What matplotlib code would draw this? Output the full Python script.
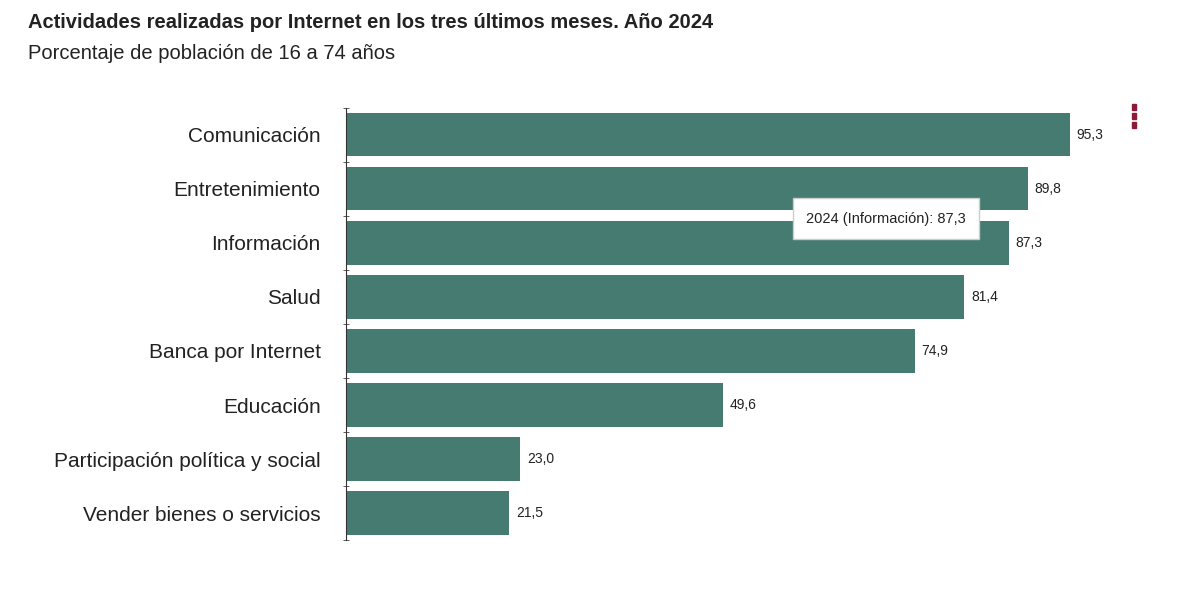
import matplotlib.pyplot as plt

plt.rcParams["font.family"] = "Liberation Sans"

categories = ["Comunicación", "Entretenimiento", "Información", "Salud",
              "Banca por Internet", "Educación", "Participación política y social",
              "Vender bienes o servicios"]
values = [95.3, 89.8, 87.3, 81.4, 74.9, 49.6, 23.0, 21.5]
bar_color = "#457b71"

fig = plt.figure(figsize=(12, 5.89), dpi=100)
ax = fig.add_axes([0.288, 0.083, 0.67, 0.734])

y = list(range(len(categories)))
ax.barh(y, values, height=0.8, color=bar_color)
ax.set_ylim(len(categories) - 0.5, -0.5)
ax.set_xlim(0, 105.8)

for yi, v in zip(y, values):
    ax.text(v + 0.9, yi, f"{v:.1f}".replace(".", ","), va="center", ha="left",
            fontsize=10, color="#222222")

ax.set_yticks(y)
ax.set_yticklabels(categories, fontsize=15, color="#222222")
ax.tick_params(axis="y", length=0, pad=18)
ax.set_yticks([i + 0.5 for i in range(-1, len(categories))], minor=True)
ax.tick_params(axis="y", which="minor", length=5, color="#444444", direction="inout")
ax.set_xticks([])
for s in ["top", "right", "bottom"]:
    ax.spines[s].set_visible(False)
ax.spines["left"].set_color("#333333")

# tooltip
ax.text(60.6, 1.55, "2024 (Información): 87,3", fontsize=10.5, va="center", ha="left",
        color="#222222",
        bbox=dict(boxstyle="square,pad=0.9", fc="white", ec="#cccccc", lw=1))

fig.text(0.023, 0.962, "Actividades realizadas por Internet en los tres últimos meses. Año 2024",
         fontsize=14.5, fontweight="bold", va="center", color="#222222")
fig.text(0.023, 0.91, "Porcentaje de población de 16 a 74 años",
         fontsize=14.5, va="center", color="#222222")

# menu dots
for yy in [0.818, 0.803, 0.788]:
    fig.patches.append(plt.Rectangle((0.9435, yy - 0.005), 0.003, 0.01,
                                     transform=fig.transFigure, color="#8b1a3a"))

fig.savefig("out.png", dpi=100)
